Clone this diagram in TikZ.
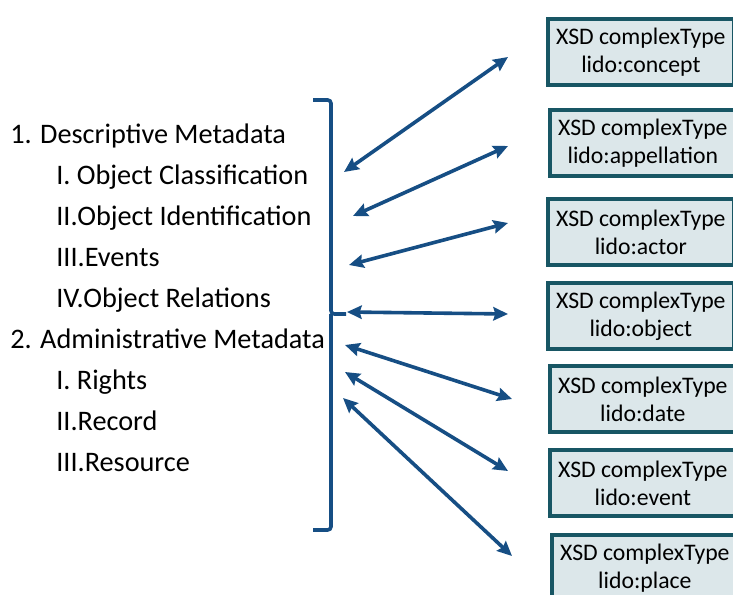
\documentclass[tikz,border=0pt]{standalone}
\usepackage{fontspec}
\setmainfont{Carlito}
\usetikzlibrary{arrows.meta}
\definecolor{arrowblue}{RGB}{22,78,132}
\definecolor{boxfill}{RGB}{220,231,234}
\definecolor{boxline}{RGB}{24,86,100}
\tikzset{
  xsdbox/.style={draw=boxline, line width=2.8pt, fill=boxfill, anchor=north west,
    minimum width=139.5pt, minimum height=49.5pt, inner sep=0pt, align=center,
    font=\fontsize{17.8}{21}\selectfont},
  listtext/.style={anchor=base west, inner sep=0pt, font=\fontsize{21.2}{25}\selectfont},
  link/.style={draw=arrowblue, line width=2.7pt,
    {Stealth[length=11pt,width=10pt,inset=1.5pt]}-{Stealth[length=11pt,width=10pt,inset=1.5pt]}},
  bracketline/.style={draw=arrowblue, line width=2.7pt, rounded corners=2.5pt}
}
\begin{document}
\begin{tikzpicture}[x=0.75pt,y=-0.75pt]
\clip (0,0) rectangle (733,595);
\fill[white] (0,0) rectangle (733,595);

% boxes
\node[xsdbox] (concept) at (546,17) {XSD complexType\\lido:concept};
\node[xsdbox] (appellation) at (548,108) {XSD complexType\\lido:appellation};
\node[xsdbox] (actor) at (546,197) {XSD complexType\\lido:actor};
\node[xsdbox] (object) at (546,281) {XSD complexType\\lido:object};
\node[xsdbox] (date) at (548,364) {XSD complexType\\lido:date};
\node[xsdbox] (event) at (548,448) {XSD complexType\\lido:event};
\node[xsdbox] (place) at (550,533) {XSD complexType\\lido:place};

% list
\node[listtext] (d1) at (10,144) {1. Descriptive Metadata};
\node[listtext] (d2) at (56,185) {I. Object Classification};
\node[listtext] (d3) at (56,226) {II.Object Identification};
\node[listtext] (d4) at (56,267) {III.Events};
\node[listtext] (d5) at (56,308) {IV.Object Relations};
\node[listtext] (a1) at (10,349) {2. Administrative Metadata};
\node[listtext] (a2) at (56,390) {I. Rights};
\node[listtext] (a3) at (56,431) {II.Record};
\node[listtext] (a4) at (56,472) {III.Resource};

% bracket
\coordinate (brtop) at (313,100);
\coordinate (brmid) at (331,314);
\coordinate (brtip) at (346,314);
\coordinate (brbot) at (313,530);
\draw[bracketline] (brtop) -| (brmid) -- (brtip);
\draw[bracketline] (brmid) |- (brbot);

% arrow end points
\coordinate (l1) at (344,172); \coordinate (r1) at (508,57);
\coordinate (l2) at (353,216); \coordinate (r2) at (508,146);
\coordinate (l3) at (349,265); \coordinate (r3) at (508,223);
\coordinate (l4) at (347,312); \coordinate (r4) at (508,314);
\coordinate (l5) at (345,345); \coordinate (r5) at (512,399);
\coordinate (l6) at (345,372); \coordinate (r6) at (508,471);
\coordinate (l7) at (343,398); \coordinate (r7) at (512,556);

\draw[link] (l1) -- (r1);
\draw[link] (l2) -- (r2);
\draw[link] (l3) -- (r3);
\draw[link] (l4) -- (r4);
\draw[link] (l5) -- (r5);
\draw[link] (l6) -- (r6);
\draw[link] (l7) -- (r7);
\end{tikzpicture}
\end{document}
